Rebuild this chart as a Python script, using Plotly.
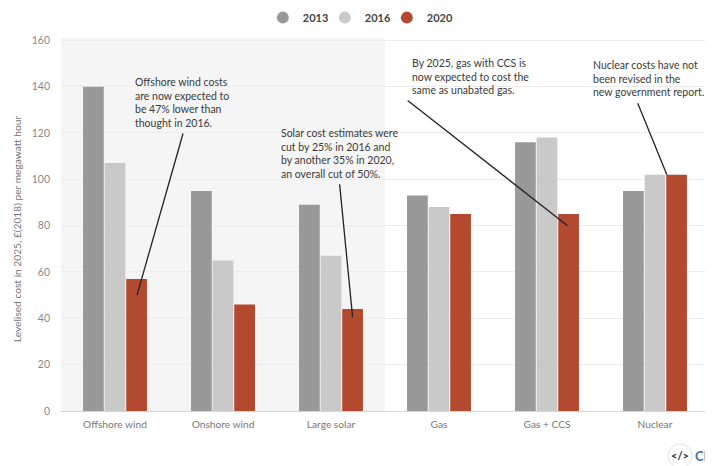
import plotly.graph_objects as go

categories = ["Offshore wind", "Onshore wind", "Large solar", "Gas", "Gas + CCS", "Nuclear"]
v2013 = [140, 95, 89, 93, 116, 95]
v2016 = [107, 65, 67, 88, 118, 102]
v2020 = [57, 46, 44, 85, 85, 102]
series = [("2013", v2013, "#999999"), ("2016", v2016, "#c9c9c9"), ("2020", v2020, "#b34a30")]
y_ticks = [0, 20, 40, 60, 80, 100, 120, 140, 160]
y_title = "Levelised cost in 2025, £(2018) per megawatt hour"
notes = [
    ("Offshore wind costs<br>are now expected to<br>be 47% lower than<br>thought in 2016.", 0.167, 145.4),
    ("Solar cost estimates were<br>cut by 25% in 2016 and<br>by another 35% in 2020,<br>an overall cut of 50%.", 1.519, 123.4),
    ("By 2025, gas with CCS is<br>now expected to cost the<br>same as unabated gas.", 2.732, 153.8),
    ("Nuclear costs have not<br>been revised in the<br>new government report.", 4.405, 152.8),
]
leaders = [
    (0.63, 119.8, 0.204, 50),
    (2.08, 97.8, 2.2, 40.5),
    (2.71, 134, 4.19, 80),
    (4.84, 132.8, 5.11, 102),
]
FONT = "Lato"
W, H = 705, 458
L, R, T, B = 53, 4, 30, 55

fig = go.Figure()
for name, vals, col in series:
    fig.add_trace(go.Bar(x=list(range(6)), y=vals, name=name, marker=dict(color=col, line=dict(width=0)),
                         showlegend=False, hoverinfo="y"))
for name, vals, col in series:
    fig.add_trace(go.Scatter(x=[None], y=[None], mode="markers", name=name,
                             marker=dict(color=col, size=12, symbol="circle")))
# invisible spacer entry so the last legend label has room
fig.add_trace(go.Scatter(x=[None], y=[None], mode="markers", name=" ", marker=dict(color="white", size=1, opacity=0)))

fig.add_shape(type="rect", xref="x", yref="paper", x0=-0.5, x1=2.5, y0=0, y1=1,
              fillcolor="#f5f5f5", line_width=0, layer="below")
for x0, y0, x1, y1 in leaders:
    fig.add_shape(type="line", xref="x", yref="y", x0=x0, y0=y0, x1=x1, y1=y1,
                  line=dict(color="#222222", width=1.3))
for text, x, y in notes:
    fig.add_annotation(text=text, x=x, y=y, xref="x", yref="y", xanchor="left", yanchor="top",
                       align="left", showarrow=False, font=dict(family=FONT, size=10.5, color="#3a3a3a"))
fig.add_annotation(text=y_title, x=-0.068, y=0.49, xref="paper", yref="paper", textangle=-90, showarrow=False,
                   xanchor="center", yanchor="middle", font=dict(family=FONT, size=10.2, color="#777777"))

# publisher mark
fig.add_shape(type="circle", xref="paper", yref="paper", x0=0.9367, x1=0.9738, y0=-0.153, y1=-0.088,
              line=dict(color="#e2e2e2", width=1), fillcolor="white")
fig.add_annotation(text="<b>&lt;/&gt;</b>", x=0.955, y=-0.1206, xref="paper", yref="paper", showarrow=False,
                   xanchor="center", yanchor="middle", font=dict(family=FONT, size=11, color="#333333"))
fig.add_annotation(text="<b>CI</b>", x=0.9877, y=-0.1206, xref="paper", yref="paper", showarrow=False,
                   xanchor="center", yanchor="middle", font=dict(family=FONT, size=13, color="#3f74a8"))

fig.update_layout(
    width=W, height=H, margin=dict(l=L, r=R, t=T, b=B, autoexpand=False), paper_bgcolor="white", plot_bgcolor="white",
    barmode="group", bargap=0.4, bargroupgap=0.04,
    font=dict(family=FONT, color="#777777"),
    legend=dict(orientation="h", x=0.3615, xref="container", xanchor="left", y=1.0935, yref="paper", yanchor="top",
                font=dict(family=FONT, size=11, color="#444444", weight=700), itemwidth=30,
                entrywidth=17, entrywidthmode="pixels"),
    xaxis=dict(tickmode="array", tickvals=list(range(6)), ticktext=categories, range=[-0.5, 5.5], showgrid=False,
               showline=True, linecolor="#ccd6eb", linewidth=1, ticks="", tickfont=dict(size=10.2, color="#777777"),
               zeroline=False, ticklabelstandoff=4),
    yaxis=dict(range=[0, 161], tickvals=y_ticks, gridcolor="#ececec", gridwidth=1, zeroline=False,
               tickfont=dict(size=10.5, color="#888888"), ticks="", ticklabelstandoff=10),
)
fig.write_html("out.html")
